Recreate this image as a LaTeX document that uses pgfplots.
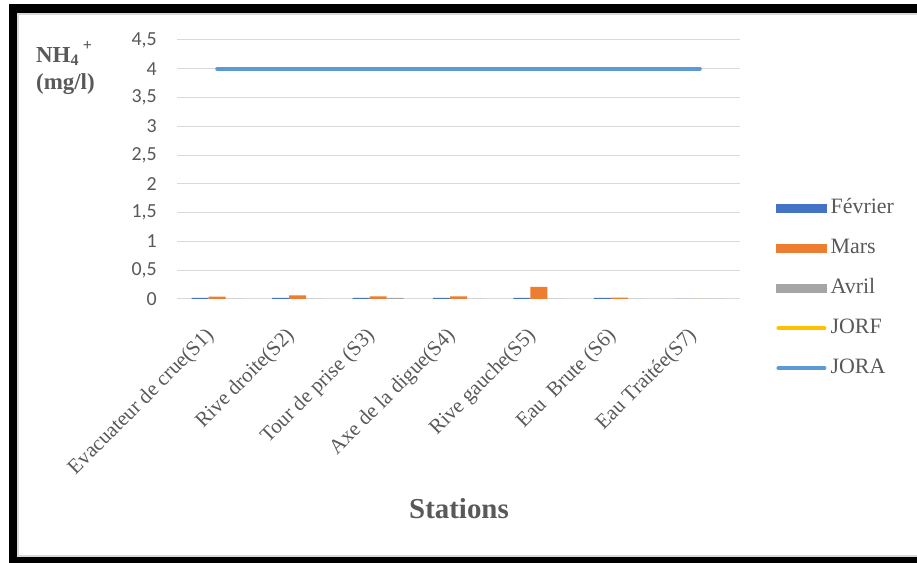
\documentclass[border=0pt]{standalone}
\usepackage{fontspec}
\setmainfont{Liberation Serif}
\newfontfamily\tickfont{Carlito}
\usepackage{pgfplots}
\usepackage{pgfplotstable}
\pgfplotsset{compat=1.18}

\definecolor{cFev}{HTML}{4472C4}
\definecolor{cMars}{HTML}{ED7D31}
\definecolor{cAvril}{HTML}{A5A5A5}
\definecolor{cJORF}{HTML}{FFC000}
\definecolor{cJORA}{HTML}{5B9BD5}
\definecolor{txt}{HTML}{595959}
\definecolor{gridc}{HTML}{D9D9D9}

% NH4+ (mg/l) per station and month
\pgfplotstableread{
x  fev   mars   avril
0  0.02  0.040  0
1  0.02  0.065  0
2  0.02  0.045  0.02
3  0.02  0.045  0
4  0.02  0.210  0
5  0.02  0.025  0
6  0     0      0
}\nhdata

\pgfplotstableread{
x  jora
0  4
1  4
2  4
3  4
4  4
5  4
6  4
}\joradata

\begin{document}
\begin{tikzpicture}[x=1bp,y=1bp]
\useasboundingbox (0,0) rectangle (917,563);
\fill[white] (0,0) rectangle (917,563);
% outer frame
\fill[black] (9,0) rectangle (17,559);
\fill[black] (9,550) rectangle (917,559);
\fill[black] (9,0) rectangle (917,6);
\fill[gridc] (17,6) rectangle (19,550);
\fill[gridc] (17,548) rectangle (917,550);
\fill[gridc] (17,6) rectangle (917,8);

\begin{axis}[
  at={(177bp,264bp)}, anchor=south west,
  scale only axis, width=563bp, height=259bp,
  xmin=-0.5, xmax=6.5, ymin=0, ymax=4.5,
  axis line style={draw=none},
  major tick length=0pt,
  ytick={0,0.5,1,1.5,2,2.5,3,3.5,4,4.5},
  yticklabels={0,{0,5},1,{1,5},2,{2,5},3,{3,5},4,{4,5}},
  ymajorgrids, grid style={gridc, line width=1bp},
  yticklabel style={font=\tickfont\fontsize{20}{24}\selectfont, text=txt, inner sep=0pt, xshift=-20bp},
  xtick={0,1,2,3,4,5,6},
  xticklabels={Evacuateur de crue(S1),Rive droite(S2),Tour de prise (S3),Axe de la digue(S4),Rive gauche(S5),Eau\ \ Brute (S6),Eau Traitée(S7)},
  xticklabel style={xshift=-13bp, yshift=-27bp, rotate=45, anchor=north east, font=\fontsize{21}{25}\selectfont, text=txt, inner sep=0pt},
  legend style={at={(1.064,0.39)}, anchor=north west, draw=none, fill=none,
    font=\fontsize{22}{26}\selectfont, text=txt, inner sep=0pt, row sep=20bp,
    nodes={text height=15bp, text depth=5bp, inner sep=0pt}},
  legend cell align=left,
  clip=false,
]
\addlegendimage{legend image code/.code={\fill[cFev] (0bp,-4bp) rectangle (50bp,4bp);}}
\addlegendentry{\hspace{4bp}Février}
\addlegendimage{legend image code/.code={\fill[cMars] (0bp,-4bp) rectangle (50bp,4bp);}}
\addlegendentry{\hspace{4bp}Mars}
\addlegendimage{legend image code/.code={\fill[cAvril] (0bp,-4bp) rectangle (50bp,4bp);}}
\addlegendentry{\hspace{4bp}Avril}
\addlegendimage{legend image code/.code={\draw[cJORF, line width=4bp, line cap=round] (2bp,0bp) -- (48bp,0bp);}}
\addlegendentry{\hspace{4bp}JORF}
\addlegendimage{legend image code/.code={\draw[cJORA, line width=4bp, line cap=round] (2bp,0bp) -- (48bp,0bp);}}
\addlegendentry{\hspace{4bp}JORA}

\addplot[ybar, bar width=17bp, bar shift=-17bp, fill=cFev, draw=none, forget plot] table[x=x, y=fev] {\nhdata};
\addplot[ybar, bar width=17bp, bar shift=0bp, fill=cMars, draw=none, forget plot] table[x=x, y=mars] {\nhdata};
\addplot[ybar, bar width=17bp, bar shift=17bp, fill=cAvril, draw=none, forget plot] table[x=x, y=avril] {\nhdata};
\addplot[cJORA, line width=4bp, line cap=round, mark=none, forget plot] table[x=x, y=jora] {\joradata};
\end{axis}

\node[anchor=north west, align=left, inner sep=0pt, text=txt,
  font=\bfseries\fontsize{23}{27}\selectfont] at (36,522)
  {NH\textsubscript{4}\,\raisebox{3bp}{\textsuperscript{+}}\\(mg/l)};
\node[text=txt, font=\bfseries\fontsize{29}{33}\selectfont] at (459,54) {Stations};
\end{tikzpicture}
\end{document}
